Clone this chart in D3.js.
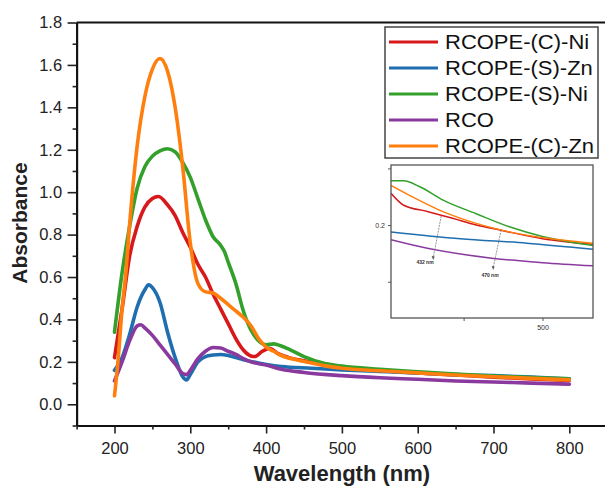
<!DOCTYPE html>
<html><head><meta charset="utf-8">
<script src="https://cdn.jsdelivr.net/npm/d3@7/dist/d3.min.js"></script>
<style>body{margin:0;background:#fff}svg{display:block;font-family:"Liberation Sans",Arial,sans-serif}</style>
</head><body><svg id="c" width="605" height="488"></svg>
<script>
// ---- data ----
const seriesNames = ["RCOPE-(C)-Ni","RCOPE-(S)-Zn","RCOPE-(S)-Ni","RCO","RCOPE-(C)-Zn"];
const seriesColors = ["#d7191c","#1f6fb0","#33a02c","#8a3a9e","#ff7f0e"];
const wlCNi = [200,210,220,230,240,250,258,270,280,290,300,310,320,330,340,350,360,370,380,385,395,405,415,430,450,475,500,550,600,650,700,750,800];
const absCNi = [0.22,0.45,0.70,0.84,0.93,0.97,0.98,0.94,0.89,0.81,0.74,0.66,0.60,0.52,0.45,0.38,0.31,0.256,0.228,0.225,0.25,0.263,0.24,0.22,0.205,0.19,0.177,0.16,0.148,0.138,0.128,0.12,0.112];
const wlSZn = [200,210,220,230,240,245,250,260,270,280,290,295,300,310,320,330,340,350,360,370,390,420,460,500,550,600,650,700,750,800];
const absSZn = [0.16,0.22,0.33,0.46,0.54,0.563,0.55,0.48,0.34,0.22,0.13,0.115,0.14,0.20,0.225,0.232,0.235,0.23,0.22,0.21,0.195,0.178,0.17,0.162,0.155,0.148,0.14,0.135,0.128,0.12];
const wlSNi = [200,210,220,230,240,250,260,270,280,290,300,310,320,330,340,345,350,360,370,380,390,400,410,420,430,450,475,500,550,600,650,700,750,800];
const absSNi = [0.34,0.62,0.84,1.02,1.12,1.17,1.195,1.205,1.19,1.14,1.07,0.97,0.87,0.79,0.75,0.72,0.67,0.57,0.44,0.35,0.30,0.28,0.285,0.275,0.26,0.225,0.195,0.18,0.165,0.153,0.142,0.133,0.126,0.12];
const wlRCO = [200,210,220,230,235,240,250,260,270,280,290,295,300,310,320,330,340,350,360,370,380,400,420,450,500,550,600,650,700,750,800];
const absRCO = [0.11,0.20,0.30,0.37,0.375,0.36,0.325,0.28,0.235,0.19,0.145,0.14,0.16,0.215,0.25,0.268,0.265,0.25,0.235,0.215,0.20,0.185,0.165,0.15,0.135,0.125,0.118,0.11,0.105,0.10,0.095];
const wlCZn = [200,205,210,215,220,230,240,250,260,270,280,290,300,310,320,330,340,350,360,370,380,390,400,410,420,440,460,480,500,550,600,650,700,750,800];
const absCZn = [0.04,0.22,0.45,0.62,0.85,1.22,1.45,1.58,1.63,1.57,1.40,1.12,0.76,0.57,0.53,0.525,0.50,0.47,0.44,0.41,0.37,0.31,0.27,0.25,0.23,0.21,0.195,0.18,0.17,0.158,0.148,0.138,0.13,0.122,0.115];
const yTicks = [0.0,0.2,0.4,0.6,0.8,1.0,1.2,1.4,1.6,1.8];
const xTicks = [200,300,400,500,600,700,800];
// inset (zoom of 404-532 nm)
const inWlCNi = [404,412,427,443,458,473,500,532];
const inAbsCNi = [0.228,0.2175,0.212,0.206,0.200,0.1956,0.188,0.183];
const inWlSZn = [404,448,490,532];
const inAbsSZn = [0.194,0.188,0.184,0.1786];
const inWlSNi = [404,412,422,437,458,479,500,532];
const inAbsSNi = [0.239,0.239,0.234,0.222,0.210,0.1985,0.190,0.182];
const inWlRCO = [404,427,469,500,532];
const inAbsRCO = [0.187,0.1795,0.1706,0.1668,0.164];
const inWlCZn = [404,416,435,458,479,511,532];
const inAbsCZn = [0.235,0.226,0.213,0.2015,0.194,0.187,0.184];
const insetLabels = ["432 nm","470 nm"];
const insetMarks = [432,470];

const mainSeries = [[wlCNi,absCNi],[wlSZn,absSZn],[wlSNi,absSNi],[wlRCO,absRCO],[wlCZn,absCZn]];
const insetSeries = [[inWlCNi,inAbsCNi],[inWlSZn,inAbsSZn],[inWlSNi,inAbsSNi],[inWlRCO,inAbsRCO],[inWlCZn,inAbsCZn]];

const svg = d3.select("#c");
const x = d3.scaleLinear().domain([150,850]).range([76.6,607.2]);
const y = d3.scaleLinear().domain([-0.1,1.8]).range([425.5,22.5]);

// axes
const xAx = svg.append("g").attr("transform",`translate(0,${y(-0.1)})`)
  .call(d3.axisBottom(x).tickValues(xTicks).tickFormat(d3.format("d")).tickSize(8).tickSizeOuter(0));
const xMin = svg.append("g").attr("transform",`translate(0,${y(-0.1)})`)
  .call(d3.axisBottom(x).tickValues(d3.range(150,851,50).filter(v=>v%100!==0)).tickFormat("").tickSize(4).tickSizeOuter(0));
const yAx = svg.append("g").attr("transform",`translate(${x(150)},0)`)
  .call(d3.axisLeft(y).tickValues(yTicks).tickFormat(d3.format(".1f")).tickSize(9).tickSizeOuter(0));
const yMin = svg.append("g").attr("transform",`translate(${x(150)},0)`)
  .call(d3.axisLeft(y).tickValues([-0.1,0.1,0.3,0.5,0.7,0.9,1.1,1.3,1.5,1.7]).tickFormat("").tickSize(4).tickSizeOuter(0));
[xAx,xMin,yAx,yMin].forEach(g=>{g.select(".domain").attr("stroke","#111").attr("stroke-width",2);g.selectAll(".tick line").attr("stroke","#222").attr("stroke-width",1.6);});
xAx.selectAll("text").attr("font-size",16.5).attr("fill","#222").attr("dy","1.05em").attr("font-family","Liberation Sans, Arial");
yAx.selectAll("text").attr("font-size",16.5).attr("fill","#222").attr("dx","-0.15em").attr("font-family","Liberation Sans, Arial");
// top frame line
svg.append("line").attr("x1",x(150)).attr("x2",605).attr("y1",y(1.8)).attr("y2",y(1.8)).attr("stroke","#111").attr("stroke-width",2);

// titles
svg.append("text").attr("x",x(500)).attr("y",481).attr("text-anchor","middle").attr("font-size",22).attr("font-weight","bold").attr("fill","#222").text("Wavelength (nm)");
svg.append("text").attr("transform","translate(27,223) rotate(-90)").attr("text-anchor","middle").attr("font-size",21).attr("font-weight","bold").attr("fill","#222").text("Absorbance");

// main lines
const line = d3.line().curve(d3.curveMonotoneX);
mainSeries.forEach((s,i)=>{
  svg.append("path").attr("d",line(s[0].map((w,k)=>[x(w),y(s[1][k])]))).attr("fill","none")
    .attr("stroke",seriesColors[i]).attr("stroke-width",3.6).attr("stroke-linejoin","round").attr("stroke-linecap","round");
});

// legend
const lg = svg.append("g");
lg.append("rect").attr("x",385).attr("y",27).attr("width",213).attr("height",131).attr("fill","#fff").attr("stroke","#444").attr("stroke-width",1.5);
seriesNames.forEach((n,i)=>{
  const cy = 42 + i*26;
  lg.append("line").attr("x1",389).attr("x2",438).attr("y1",cy).attr("y2",cy).attr("stroke",seriesColors[i]).attr("stroke-width",3);
  lg.append("text").attr("transform",`translate(445,${cy}) scale(1.1,1)`).attr("dy","0.36em").attr("font-size",20).attr("fill","#111").text(n);
});

// inset
const ix = d3.scaleLinear().domain([404,532]).range([391,593]);
const iy = d3.scaleLinear().domain([0.118,0.253]).range([318,165]);
const ins = svg.append("g");
ins.append("rect").attr("x",391).attr("y",165).attr("width",202).attr("height",153).attr("fill","#fff");
svg.append("clipPath").attr("id","ic").append("rect").attr("x",391).attr("y",165).attr("width",202).attr("height",153);
const il = d3.line().curve(d3.curveMonotoneX);
insetSeries.forEach((s,i)=>{
  ins.append("path").attr("clip-path","url(#ic)").attr("d",il(s[0].map((w,k)=>[ix(w),iy(s[1][k])]))).attr("fill","none")
    .attr("stroke",seriesColors[i]).attr("stroke-width",1.5);
});
ins.append("rect").attr("x",391).attr("y",165).attr("width",202).attr("height",153).attr("fill","none").attr("stroke","#555").attr("stroke-width",1.3);
const ixa = ins.append("g").attr("transform","translate(0,318)").call(d3.axisBottom(ix).tickValues([450,500]).tickFormat(d=>d===500?"500":"").tickSize(3).tickSizeOuter(0));
const iya = ins.append("g").attr("transform","translate(391,0)").call(d3.axisLeft(iy).tickValues([0.15,0.2,0.25]).tickFormat(d=>d===0.2?"0.2":"").tickSize(3).tickSizeOuter(0));
[ixa,iya].forEach(g=>{g.select(".domain").remove();g.selectAll(".tick line").attr("stroke","#555");g.selectAll("text").attr("font-size",7).attr("fill","#333");});
ixa.selectAll("text").attr("dy","0.9em");
// annotations
const annY = [[216,258],[230,268]];
const annText = [[425,264],[490,277]];
insetMarks.forEach((m,i)=>{
  const xa = ix(m);
  ins.append("line").attr("x1",xa+6).attr("y1",annY[i][0]).attr("x2",xa-2).attr("y2",annY[i][1]).attr("stroke","#777").attr("stroke-width",0.8).attr("stroke-dasharray","2,1");
  ins.append("path").attr("d",`M${xa-2},${annY[i][1]+2} l-1.5,-4 l3,0.5 z`).attr("fill","#555");
  ins.append("text").attr("x",annText[i][0]).attr("y",annText[i][1]).attr("text-anchor","middle").attr("font-size",5).attr("font-weight","bold").attr("fill","#333").text(insetLabels[i]);
});
</script></body></html>
